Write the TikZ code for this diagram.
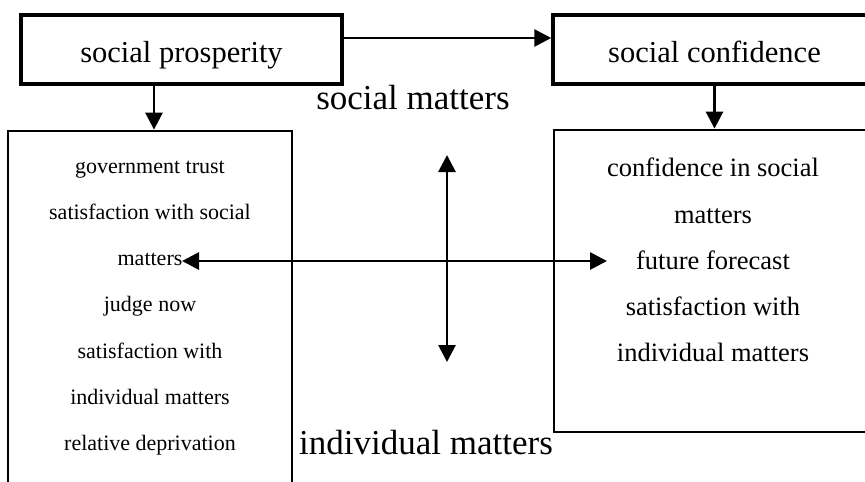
\documentclass[tikz,border=0pt]{standalone}
\usepackage{fontspec}
\setmainfont{Liberation Serif}
\usetikzlibrary{arrows.meta, positioning, calc}

\begin{document}
\begin{tikzpicture}[
    x=1pt, y=-1pt,
    head/.style  = {draw, line width=3.5pt, inner sep=0pt,
                    text height=25pt, text depth=0pt,
                    font=\fontsize{30.5}{36}\selectfont},
    panel/.style = {draw, line width=2.8pt, inner sep=0pt},
    items/.style = {align=center, inner sep=0pt},
    tag/.style   = {inner sep=0pt, font=\fontsize{35}{40}\selectfont},
    arr/.style   = {-{Triangle[length=17pt,width=17pt]}, line width=2.8pt},
    darr/.style  = {{Triangle[length=17pt,width=17pt]}-{Triangle[length=17pt,width=17pt]},
                    line width=2.8pt},
  ]
  \clip (0,0) rectangle (865,482);

  \node[head, minimum width=321, minimum height=69] (prosp) at (181.5,49.5) {social prosperity};
  \node[head, minimum width=323, minimum height=69] (conf) at (714.5,49.5) {social confidence};

  \node[panel, minimum width=284, minimum height=390] (lbox) at (150,326) {};
  \node[panel, minimum width=318, minimum height=302] (rbox) at (713,281) {};

  \node[items, font=\fontsize{22}{46.2}\selectfont] (ltext) at (150,308)
    {government trust\\ satisfaction with social\\ matters\\ judge now\\
     satisfaction with\\ individual matters\\ relative deprivation};
  \node[items, font=\fontsize{26.5}{46.2}\selectfont] (rtext) at (713,260)
    {confidence in social\\ matters\\ future forecast\\ satisfaction with\\ individual matters};

  \node[tag] (soc) at (413,98) {social matters};
  \node[tag] (ind) at (426,443) {individual matters};

  \coordinate (hl) at (182,261);
  \coordinate (hr) at (607,261);
  \coordinate (vt) at (447,155);
  \coordinate (vb) at (447,362);

  \draw[arr] ([yshift=11.5pt]prosp.east) -- ([yshift=11.5pt]conf.west);
  \draw[arr] ([xshift=-27.5pt]prosp.south) -- ([xshift=-27.5pt]prosp.south |- lbox.north);
  \draw[arr] (conf.south) -- (conf.south |- rbox.north);
  \draw[darr] (hl) -- (hr);
  \draw[darr] (vt) -- (vb);
\end{tikzpicture}
\end{document}
